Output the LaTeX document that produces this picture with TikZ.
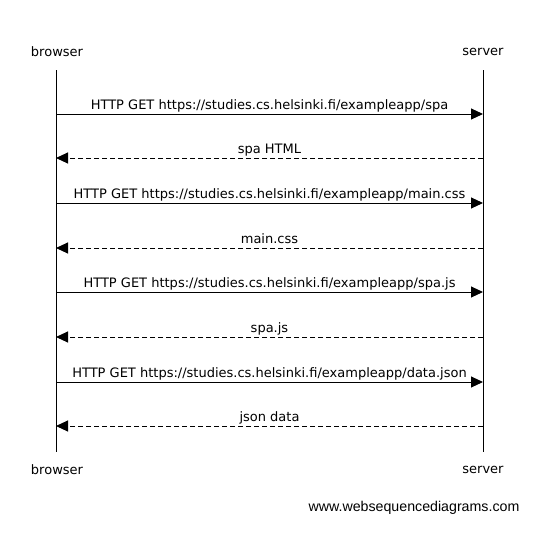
\documentclass[tikz,border=0pt]{standalone}
\usepackage{fontspec}
\setmainfont{DejaVu Sans}
\newfontfamily\wsdfont{Liberation Sans}
\usetikzlibrary{arrows.meta}

\begin{document}
\begin{tikzpicture}[x=1pt,y=-1pt]
\tikzset{actor/.style = {font=\fontsize{13}{15}\selectfont}}
\tikzset{call/.style = {line width=1pt,-{Triangle[length=12pt,width=11pt]}}}
\tikzset{reply/.style = {call,dash pattern=on 5pt off 3pt}}
\tikzset{msg/.style = {anchor=base,yshift=4.7pt,font=\fontsize{13}{15}\selectfont}}
\useasboundingbox (0,0) rectangle (543,533);
\node[actor] (b top) at (57,52) {browser};
\node[actor] (s top) at (483,52) {server};
\node[actor] (b bot) at (57,470) {browser};
\node[actor] (s bot) at (483,470) {server};
\coordinate (b start) at (56,70);
\coordinate (b end) at (56,452);
\coordinate (s start) at (483,70);
\coordinate (s end) at (483,452);
\draw[line width=1pt] (b start) -- (b end);
\draw[line width=1pt] (s start) -- (s end);

\foreach \y [count=\i] in {114,158,203,248,292,337,382,426} {
  \coordinate (b\i) at (56,\y);
  \coordinate (s\i) at (483,\y);
}

\draw[call] (b1) -- node[msg] {HTTP GET https://studies.cs.helsinki.fi/exampleapp/spa} (s1);
\draw[reply] (s2) -- node[msg] {spa HTML} (b2);
\draw[call] (b3) -- node[msg] {HTTP GET https://studies.cs.helsinki.fi/exampleapp/main.css} (s3);
\draw[reply] (s4) -- node[msg] {main.css} (b4);
\draw[call] (b5) -- node[msg] {HTTP GET https://studies.cs.helsinki.fi/exampleapp/spa.js} (s5);
\draw[reply] (s6) -- node[msg] {spa.js} (b6);
\draw[call] (b7) -- node[msg] {HTTP GET https://studies.cs.helsinki.fi/exampleapp/data.json} (s7);
\draw[reply] (s8) -- node[msg] {json data} (b8);

\node[font=\wsdfont\fontsize{14.2}{16}\selectfont] (mark) at (414,508) {www.websequencediagrams.com};
\end{tikzpicture}
\end{document}
